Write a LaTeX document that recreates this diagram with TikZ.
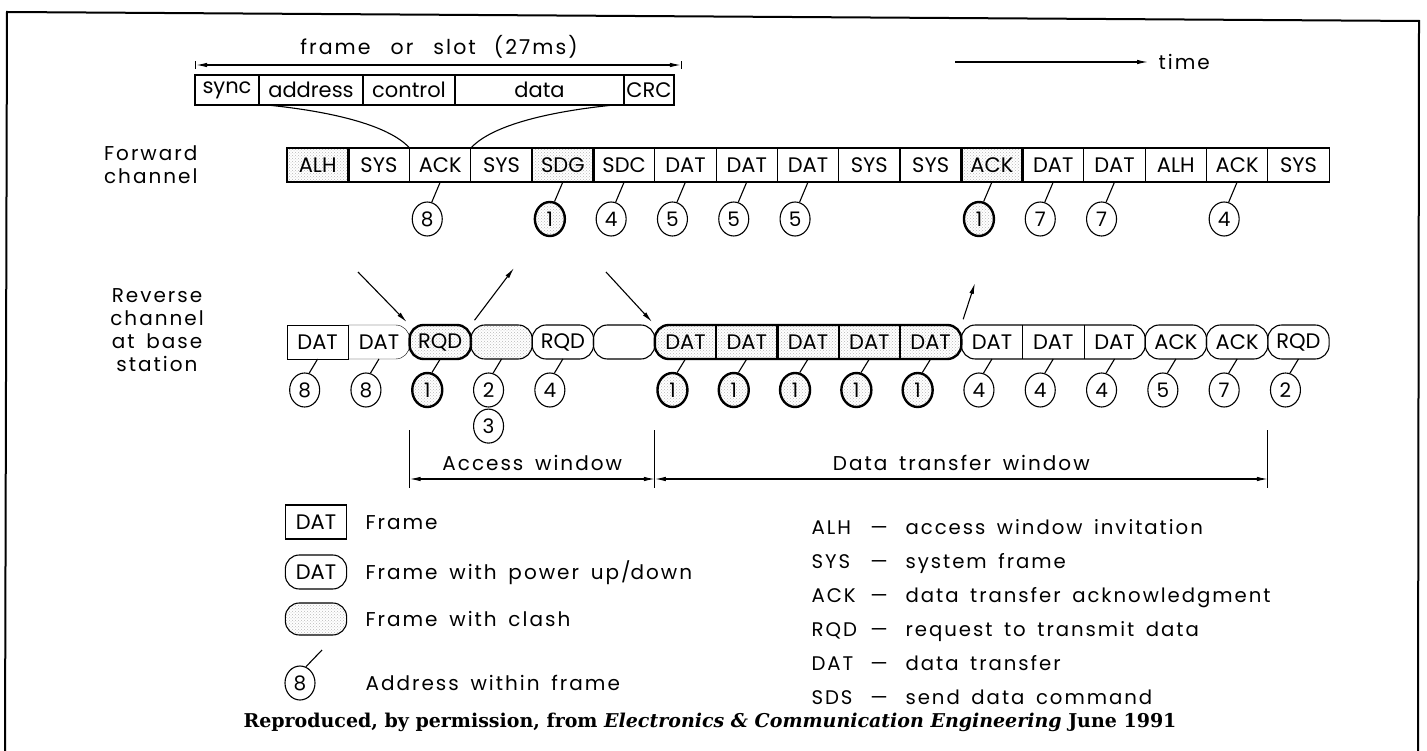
\documentclass[tikz,border=0pt]{standalone}
\usepackage{fontspec}
\setmainfont{Poppins}[LetterSpace=10,WordSpace=1.6]
\newfontfamily\boxfont{Poppins}
\newfontfamily\capfont{DejaVu Serif}
\usetikzlibrary{arrows.meta, positioning, calc, shapes.geometric, patterns, backgrounds}

\tikzset{
  lbl/.style={font=\fontsize{20}{23}\selectfont, inner sep=0pt},
  keytxt/.style={font=\fontsize{19.7}{22}\selectfont, inner sep=0pt},
  frm/.style={draw, line width=1.1pt, minimum width=61.3pt, minimum height=34pt,
    inner sep=0pt, outer sep=0pt, font=\boxfont\fontsize{21}{25}\selectfont},
  cell/.style={minimum width=61.3pt, minimum height=34pt, inner sep=0pt, outer sep=0pt,
    font=\boxfont\fontsize{21}{25}\selectfont},
  pwr/.style={line width=1.1pt, rounded corners=14pt},
  heavy/.style={line width=2.4pt},
  clash/.style={pattern=crosshatch dots, pattern color=gray!55},
  addr/.style={ellipse, draw, line width=1.1pt, minimum width=30pt, minimum height=34pt,
    inner sep=0pt, font=\boxfont\fontsize{20}{24}\selectfont},
  addrbold/.style={addr, heavy, clash},
  slot/.style={draw, line width=1.1pt, minimum height=30pt, inner sep=0pt, outer sep=0pt,
    font=\boxfont\fontsize{21}{25}\selectfont},
  arr/.style={-{Latex[length=11pt,width=4.5pt]}, line width=1.1pt},
}

\begin{document}
\begin{tikzpicture}[x=1pt, y=-1pt, >={Latex[length=11pt,width=4.5pt]}, line width=1.1pt]
  \useasboundingbox (0,0) rectangle (1427,751);
  \begin{scope}[on background layer]
    \fill[white] (0,0) rectangle (1427,751);
  \end{scope}
  \draw[line width=2pt] (5,751) -- (7,12) -- (1419,21) -- (1418,751);

  % forward channel
  \foreach \lab [count=\i] in {ALH,SYS,ACK,SYS,SDG,SDC,DAT,DAT,DAT,SYS,SYS,ACK,DAT,DAT,ALH,ACK,SYS}
    \node[frm] (f\i) at ({287+61.3*(\i-0.5)},165) {\lab};
  \begin{scope}[on background layer]
    \foreach \i in {1,5,12}
      \fill[clash] (f\i.north west) rectangle (f\i.south east);
  \end{scope}
  \foreach \i in {1,5,12}
    \draw[heavy] (f\i.north west) rectangle (f\i.south east);
  \foreach \c/\n/\sty in {3/8/addr,5/1/addrbold,6/4/addr,7/5/addr,8/5/addr,9/5/addr,12/1/addrbold,13/7/addr,14/7/addr,16/4/addr} {
    \node[\sty] (fa\c) at ($(f\c)+(-13,54)$) {\n};
    \draw (fa\c.75) -- (f\c.south);
  }
  \node[lbl, align=center, left=89pt of f1] (fwd) {Forward\\channel};

  % reverse channel
  \foreach \lab [count=\i] in {DAT,DAT,RQD,{},RQD,{},DAT,DAT,DAT,DAT,DAT,DAT,DAT,DAT,ACK,ACK,RQD}
    \node[cell] (r\i) at ({287+61.3*(\i-0.5)},342) {\lab};
  \begin{scope}[on background layer]
    \draw (r1.north west) rectangle (r1.south east);
    \draw (r2.north west) [rounded corners=14pt] -- (r2.north east) -- (r2.south east) -- (r2.south west);
    \draw[pwr, heavy, clash] (r3.north west) rectangle (r3.south east);
    \draw[pwr, clash] (r4.north west) rectangle (r4.south east);
    \foreach \i in {5,6,15,16,17}
      \draw[pwr] (r\i.north west) rectangle (r\i.south east);
    \draw[pwr, heavy, clash] (r7.north west) rectangle (r11.south east);
    \foreach \i in {7,...,10}
      \draw[heavy] (r\i.north east) -- (r\i.south east);
    \draw[pwr] (r12.north west) rectangle (r14.south east);
    \foreach \i in {12,13}
      \draw (r\i.north east) -- (r\i.south east);
  \end{scope}
  \foreach \c/\n/\sty in {1/8/addr,2/8/addr,3/1/addrbold,4/2/addr,5/4/addr,7/1/addrbold,8/1/addrbold,9/1/addrbold,10/1/addrbold,11/1/addrbold,12/4/addr,13/4/addr,14/4/addr,15/5/addr,16/7/addr,17/2/addr} {
    \node[\sty] (ra\c) at ($(r\c)+(-13,48)$) {\n};
    \draw (ra\c.75) -- (r\c.south);
  }
  \node[addr, below=1pt of ra4] (ra4b) {3};
  \node[lbl, align=center] (rev) at (157,330) {Reverse\\channel\\at base\\station};

  % frame or slot
  \node[slot, minimum width=64pt] (sync) at (227,90) {sync};
  \node[slot, minimum width=104pt, right=0pt of sync] (addr) {address};
  \node[slot, minimum width=92pt, right=0pt of addr] (ctrl) {control};
  \node[slot, minimum width=169pt, right=0pt of ctrl] (data) {data};
  \node[slot, minimum width=50pt, right=0pt of data] (crc) {CRC};
  \coordinate (dim) at (0,65);
  \coordinate (dimend) at (682,65);
  \draw[|<->|] (sync.north west |- dim) -- (dimend);
  \node[lbl, font=\fontsize{20.5}{24}\selectfont] (slotlbl) at (439,47)
    {frame\hspace{8pt} or\hspace{8pt} slot\hspace{6pt} (27ms)};
  \draw ($(addr.south west)+(8,0)$) .. controls +(60,6) and +(-22,-24) .. (f3.north west);
  \draw ($(data.south east)+(-10,0)$) .. controls +(-60,6) and +(22,-24) .. (f3.north east);

  % time
  \coordinate (t0) at (955,62);
  \node[lbl, anchor=west] (time) at (1158,62) {time};
  \draw[arr, shorten >=10pt] (t0) -- (time.west);

  % arrows between the channels
  \coordinate (p1) at (358,272);
  \draw[arr, shorten >=4pt] (p1) -- (r3.north west);
  \coordinate (p2) at (514,268);
  \draw[arr, shorten <=6pt] (r4.north west) -- (p2);
  \coordinate (p3) at (606,272);
  \draw[arr, shorten >=4pt] (p3) -- (r7.north west);
  \coordinate (p4) at (975,283);
  \draw[arr, shorten <=6pt] (r11.north east) -- (p4);

  % windows
  \coordinate (wtop) at (0,430);
  \coordinate (wbot) at (0,488);
  \coordinate (wmid) at (0,479);
  \foreach \n in {r3.south west, r7.south west, r16.south east}
    \draw (\n |- wtop) -- (\n |- wbot);
  \draw[<->] (r3.south west |- wmid) -- (r7.south west |- wmid)
    node[lbl, midway, above=8pt] (accw) {Access window};
  \draw[<->] (r7.south west |- wmid) -- (r16.south east |- wmid)
    node[lbl, midway, above=8pt] (dtw) {Data transfer window};

  % key
  \coordinate (lx) at (365,0);
  \node[frm] (lgfrm) at (316,522) {DAT};
  \node[cell] (lgpwr) at (316,572) {DAT};
  \draw[pwr] (lgpwr.north west) rectangle (lgpwr.south east);
  \node[cell, minimum height=32pt] (lgcl) at (316,619) {};
  \draw[pwr, clash] (lgcl.north west) rectangle (lgcl.south east);
  \node[addr] (lgad) at (300,683) {8};
  \coordinate (lgtip) at (322,650);
  \draw (lgad.70) -- (lgtip);
  \foreach \n/\t in {lgfrm/Frame, lgpwr/Frame with power up\slash down, lgcl/Frame with clash, lgad/Address within frame}
    \node[lbl, anchor=base west] (t\n) at ($(\n.center -| lx)+(0,7.5)$) {\t};

  \foreach \a/\d [count=\i] in {ALH/access window invitation, SYS/system frame, ACK/data transfer acknowledgment, RQD/request to transmit data, DAT/data transfer, SDS/send data command} {
    \node[keytxt, anchor=base west] (k\i) at (811,{534+34*(\i-1)}) {\a};
    \node[keytxt, anchor=base] (m\i) at (879,{534+34*(\i-1)}) {—};
    \node[keytxt, anchor=base west] (d\i) at (905,{534+34*(\i-1)}) {\d};
  }

  \node[font=\capfont\bfseries\fontsize{19}{23}\selectfont, inner sep=0pt] (credit) at (710,722)
    {Reproduced, by permission, from \textit{Electronics \& Communication Engineering} June 1991};
\end{tikzpicture}
\end{document}
